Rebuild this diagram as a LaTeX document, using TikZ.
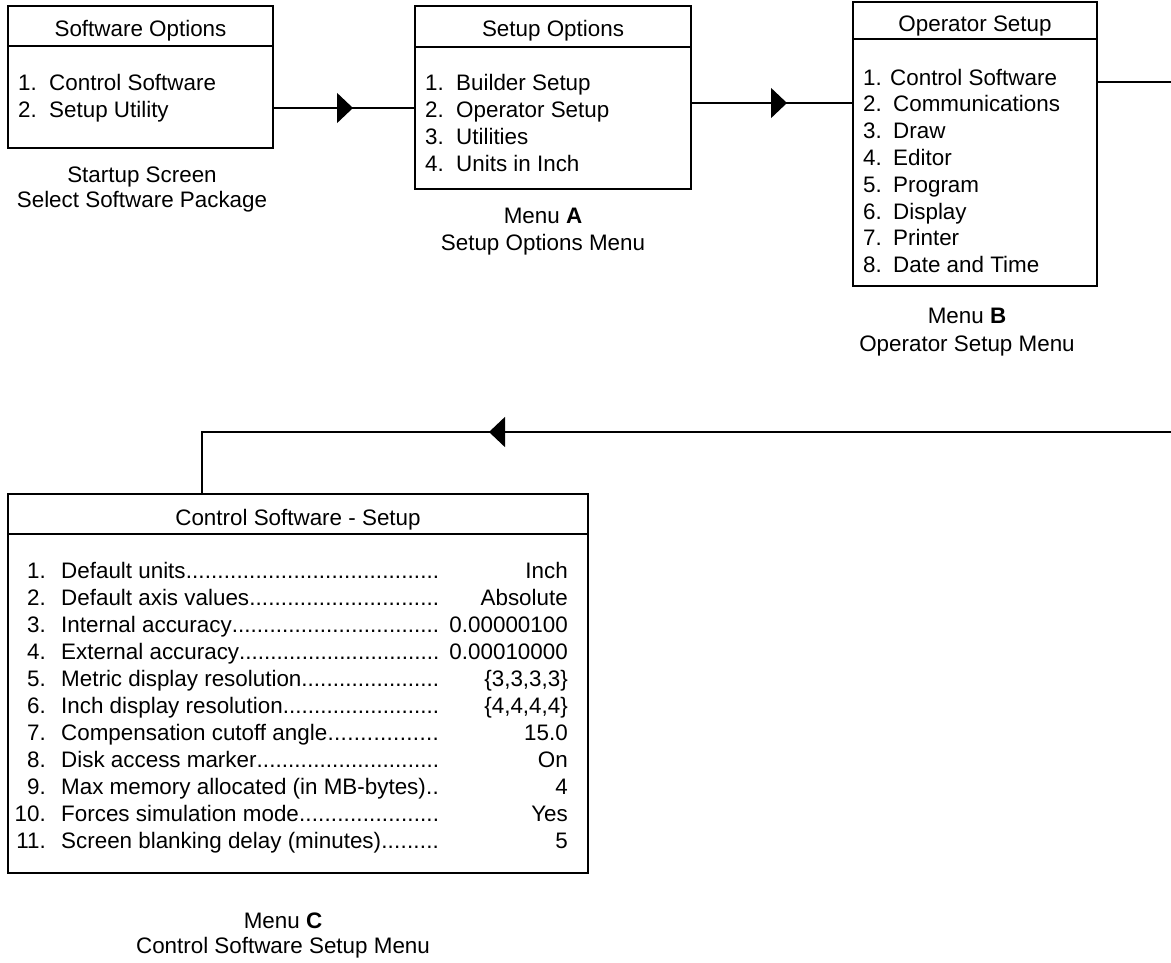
\documentclass[tikz,border=0pt]{standalone}
\usepackage{fontspec}
\setmainfont{Liberation Sans}
\usetikzlibrary{arrows.meta,decorations.markings}

\tikzset{
	menubox/.style={draw, line width=1.5pt, inner sep=0pt, outer sep=0pt},
	item/.style={font=\fontsize{22.4}{27}\selectfont, inner sep=0pt},
	flow/.style={line width=1.5pt},
	midtip/.style={postaction={decorate},
		decoration={markings, mark=at position #1 with {\arrow{Triangle[length=16pt,width=30pt]}}}},
}

\begin{document}
\begin{tikzpicture}[x=1pt,y=-1pt]
		\useasboundingbox (0,0) rectangle (1171,962);
		\clip (0,0) rectangle (1171,962);
		
		% menu boxes
		\node[menubox, minimum width=265pt, minimum height=142pt] (swopt) at (140.5,77) {};
		\node[menubox, minimum width=276pt, minimum height=183pt] (setopt) at (553,97.5) {};
		\node[menubox, minimum width=244pt, minimum height=284pt] (opsetup) at (975,144) {};
		\node[menubox, minimum width=580pt, minimum height=379pt] (ctrl) at (298,683.5) {};
		
		\draw[flow] ([yshift=-40pt]swopt.north west) -- ([yshift=-40pt]swopt.north east);
		\draw[flow] ([yshift=-41pt]setopt.north west) -- ([yshift=-41pt]setopt.north east);
		\draw[flow] ([yshift=-37pt]opsetup.north west) -- ([yshift=-37pt]opsetup.north east);
		\draw[flow] ([yshift=-40pt]ctrl.north west) -- ([yshift=-40pt]ctrl.north east);
		
		% titles
		\node[item, anchor=base] (swoptT) at (140.5,36) {Software Options};
		\node[item, anchor=base] (setoptT) at (553,36) {Setup Options};
		\node[item, anchor=base] (opsetupT) at (975,31) {Operator Setup};
		\node[item, anchor=base] (ctrlT) at (298,525) {Control Software - Setup};
		
		% items
		\foreach \n/\t [count=\i] in {1./Control Software, 2./Setup Utility}{
			\node[item, anchor=base west] (swn\i) at ({18},{90.5+27*(\i-1)}) {\n};
			\node[item, anchor=base west] (swt\i) at ({49},{90.5+27*(\i-1)}) {\t};
		}
		\foreach \n/\t [count=\i] in {1./Builder Setup, 2./Operator Setup, 3./Utilities, 4./Units in Inch}{
			\node[item, anchor=base west] (sen\i) at ({425},{90+27*(\i-1)}) {\n};
			\node[item, anchor=base west] (set\i) at ({456},{90+27*(\i-1)}) {\t};
		}
		\node[item, anchor=base west] (opt1) at (863,85) {1. Control Software};
		\foreach \n/\t [count=\i from 2] in {2./Communications, 3./Draw, 4./Editor, 5./Program,
			6./Display, 7./Printer, 8./Date and Time}{
			\node[item, anchor=base west] (opn\i) at ({863},{85+26.8*(\i-1)}) {\n};
			\node[item, anchor=base west] (opt\i) at ({893},{85+26.8*(\i-1)}) {\t};
		}
		\foreach \n/\t/\v [count=\i] in {1./Default units/Inch, 2./Default axis values/Absolute,
			3./Internal accuracy/0.00000100, 4./External accuracy/0.00010000,
			5./Metric display resolution/{\{3,3,3,3\}}, 6./Inch display resolution/{\{4,4,4,4\}},
			7./Compensation cutoff angle/15.0, 8./Disk access marker/On,
			9./Max memory allocated (in MB-bytes)/4, 10./Forces simulation mode/Yes,
			11./Screen blanking delay (minutes)/5}{
			\node[item, anchor=base east] (cn\i) at ({46},{578+27*(\i-1)}) {\n};
			\node[item, anchor=base west] (ct\i) at ({61},{578+27*(\i-1)}) {\makebox[378pt][l]{\t\xleaders\hbox{.}\hfill}};
			\node[item, anchor=base east] (cv\i) at ({568},{578+27*(\i-1)}) {\v};
		}
		
		% captions
		\node[item, anchor=base] (swcap) at (142,182) {Startup Screen};
		\node[item, anchor=base] (swcapb) at (142,207) {Select Software Package};
		\node[item, anchor=base] (setcap) at (543,223) {Menu \textbf{A}};
		\node[item, anchor=base] (setcapb) at (543,250) {Setup Options Menu};
		\node[item, anchor=base] (opcap) at (967,323) {Menu \textbf{B}};
		\node[item, anchor=base] (opcapb) at (967,351) {Operator Setup Menu};
		\node[item, anchor=base] (ctrlcap) at (283,928) {Menu \textbf{C}};
		\node[item, anchor=base] (ctrlcapb) at (283,953) {Control Software Setup Menu};
		
		% connectors
		\coordinate (lvlA) at (0,108);
		\coordinate (lvlB) at (0,103);
		\coordinate (outB) at (1200,82);
		\coordinate (backC) at (1200,432);
		\coordinate (turnC) at (202,432);
		\draw[flow, midtip=80pt] (swopt.east |- lvlA) -- (setopt.west |- lvlA);
		\draw[flow, midtip=96pt] (setopt.east |- lvlB) -- (opsetup.west |- lvlB);
		\draw[flow, midtip=1164pt] (opsetup.east |- outB) -- (outB) -- (backC) -- (turnC) -- (ctrl.north -| turnC);
\end{tikzpicture}
\end{document}
